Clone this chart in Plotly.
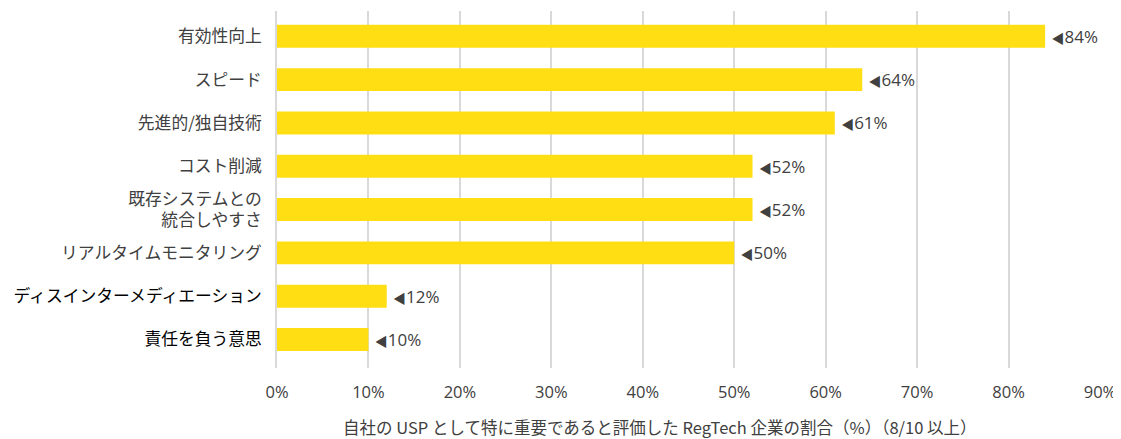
import plotly.graph_objects as go

categories = ["有効性向上", "スピード", "先進的/独自技術", "コスト削減",
              "既存システムとの<br>統合しやすさ", "リアルタイムモニタリング",
              "ディスインターメディエーション", "責任を負う意思"]
values = [84, 64, 61, 52, 52, 50, 12, 10]
label_colors = ["#404040"] * 6 + ["#000000", "#000000"]
x_ticks = [0, 10, 20, 30, 40, 50, 60, 70, 80, 90]
x_ticklabels = [f"{t}%" for t in x_ticks]
x_title = "自社の USP として特に重要であると評価した RegTech 企業の割合（%）（8/10 以上）"

bar_color = "#FFDE14"
grid_color = "#D9D9D9"
text_color = "#404040"

# page body has an 8px margin; compensate
OFF = 8
W, H = 1121 - OFF, 439 - OFF
left, right, top, bottom = 277 - OFF, 21, 11 - OFF, 71

ypos = list(range(len(categories)))
ticktext = [f"<span style='color:{c}'>{t}</span>" for t, c in zip(categories, label_colors)]
bar_text = [f"<span style='font-size:13px'> ◀</span>{v}%" for v in values]

fig = go.Figure(go.Bar(
    x=values, y=ypos, orientation="h",
    marker=dict(color=bar_color, line=dict(width=0)),
    width=0.53,
    text=bar_text, textposition="outside", cliponaxis=False,
    textfont=dict(family="Open Sans, Noto Sans CJK JP", size=17, color=text_color),
    hoverinfo="skip",
))

fig.update_layout(
    width=W, height=H,
    margin=dict(l=left, r=right, t=top, b=bottom, autoexpand=False),
    paper_bgcolor="white", plot_bgcolor="white",
    showlegend=False,
    font=dict(family="Noto Sans CJK JP", color=text_color),
    xaxis=dict(
        range=[0, 90], tickvals=x_ticks, ticktext=x_ticklabels,
        showgrid=True, gridcolor=grid_color, gridwidth=1.5,
        zeroline=False, showline=False, ticks="", automargin=False,
        tickfont=dict(family="Open Sans, Noto Sans", size=16.5, color=text_color),
        ticklabelstandoff=12,
    ),
    yaxis=dict(
        range=[7.658, -0.584], tickvals=ypos, ticktext=ticktext,
        showgrid=False, zeroline=False, automargin=False,
        showline=True, linecolor=grid_color, linewidth=1.5,
        ticks="", ticklabelstandoff=10,
        tickfont=dict(family="Noto Sans CJK JP", size=16.8, color=text_color),
    ),
)

fig.add_annotation(
    text=x_title, xref="paper", yref="paper",
    x=(660 - 277) / (1100 - 277), y=0,
    yshift=-(427 - 368), showarrow=False, xanchor="center", yanchor="middle",
    font=dict(family="Noto Sans CJK JP", size=16.5, color=text_color),
)

fig.write_html("out.html")
